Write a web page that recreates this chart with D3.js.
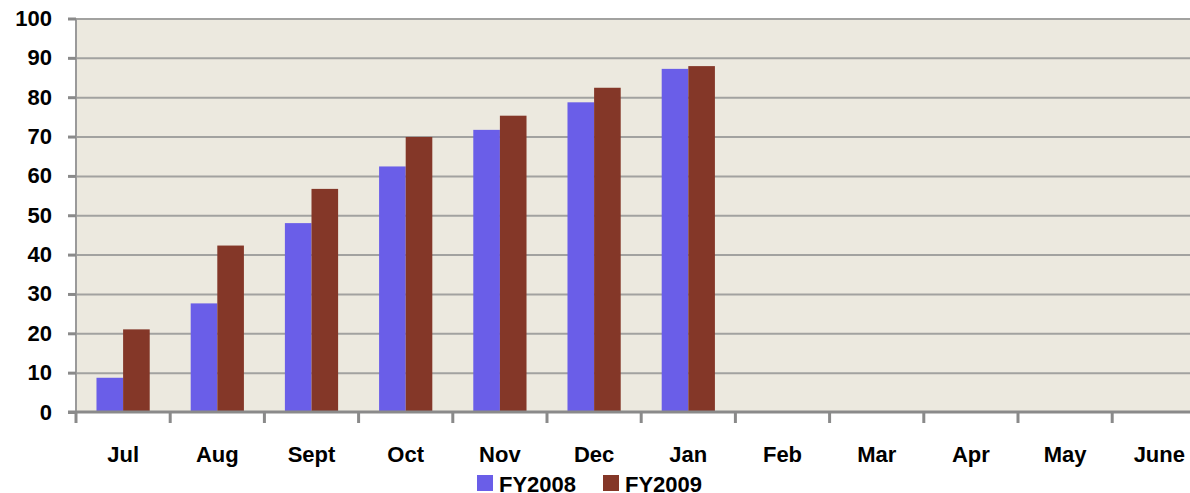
<!DOCTYPE html>
<html>
<head>
<meta charset="utf-8">
<script src="https://cdn.jsdelivr.net/npm/d3@7"></script>
<style>
  html, body { margin: 0; padding: 0; background: #fff; overflow: hidden; }
  svg text { font-family: "Liberation Sans", Arial, sans-serif; font-weight: bold; fill: #000; }
</style>
</head>
<body>
<svg id="chart" width="1190" height="493"></svg>
<script>
// chart data
var months = ["Jul","Aug","Sept","Oct","Nov","Dec","Jan","Feb","Mar","Apr","May","June"];
var fy2008 = [8.7, 27.6, 48.0, 62.4, 71.7, 78.7, 87.2, null, null, null, null, null];
var fy2009 = [21.0, 42.3, 56.7, 69.9, 75.3, 82.4, 87.9, null, null, null, null, null];
var seriesNames = ["FY2008","FY2009"];
var seriesColors = ["#6a5ee8","#843728"];
var yTicks = [0,10,20,30,40,50,60,70,80,90,100];

// note: "top" is taken by window.top, so plot* names
var svg = d3.select('#chart'),
	plotLeft = 76, plotTop = 18.5, plotBottom = 412,
	step = 94.2,
	plotRight = plotLeft + step * months.length;

var x = d3.scaleBand()
		.domain(months)
		.range([plotLeft, plotRight])
		.padding(0);

var xSub = d3.scaleBand()
		.domain(seriesNames)
		.range([0, x.bandwidth()])
		.paddingInner(0)
		.paddingOuter(0.77);

var y = d3.scaleLinear()
		.domain([0, 100])
		.range([plotBottom, plotTop]);

var color = d3.scaleOrdinal().domain(seriesNames).range(seriesColors);

// plot background
svg.append('rect')
	.attr('x', plotLeft).attr('y', y(100))
	.attr('width', plotRight - plotLeft).attr('height', y(0) - y(100))
	.attr('fill', '#ece9df');

// gridlines
var grid = svg.append('g')
	.attr('transform', 'translate(' + plotLeft + ',0)')
	.call(d3.axisLeft(y).tickValues(yTicks.slice(1)).tickSize(-(plotRight - plotLeft)).tickFormat(''));
grid.select('.domain').remove();
grid.selectAll('line').attr('stroke', '#a2a2a0').attr('stroke-width', 2);

// bars
var rows = months.map(function(m, i){ return { m: m, v: [fy2008[i], fy2009[i]] }; });
var groups = svg.append('g').selectAll('g')
	.data(rows)
	.join('g')
	.attr('transform', function(d){ return 'translate(' + x(d.m) + ',0)'; });

groups.selectAll('rect')
	.data(function(d){
		return seriesNames.map(function(s, k){ return { s: s, v: d.v[k] }; })
			.filter(function(e){ return e.v != null; });
	})
	.join('rect')
	.attr('x', function(d){ return xSub(d.s); })
	.attr('y', function(d){ return y(d.v); })
	.attr('width', xSub.bandwidth())
	.attr('height', function(d){ return y(0) - y(d.v); })
	.attr('fill', function(d){ return color(d.s); });

// y axis
var gY = svg.append('g')
	.attr('transform', 'translate(' + plotLeft + ',0)')
	.call(d3.axisLeft(y).tickValues(yTicks).tickSize(8).tickPadding(16));
gY.select('.domain').attr('stroke', '#9a9a9a').attr('stroke-width', 2)
	.attr('d', 'M0,' + y(100) + 'V' + y(0));
gY.selectAll('.tick line').attr('stroke', '#8a8a8a').attr('stroke-width', 3);
gY.selectAll('text').style('font-size', '22px').attr('fill', '#000');

// x axis : labels centred, ticks on the band edges
var gX = svg.append('g')
	.attr('transform', 'translate(0,' + y(0) + ')')
	.call(d3.axisBottom(x).tickSize(0).tickPadding(34));
gX.select('.domain').attr('stroke', '#8a8a8a').attr('stroke-width', 3)
	.attr('d', 'M' + (plotLeft - 8) + ',0H' + plotRight);
gX.selectAll('text').style('font-size', '22px').attr('fill', '#000');

gX.selectAll('.edge')
	.data(d3.range(months.length + 1))
	.join('line')
	.attr('class', 'edge')
	.attr('x1', function(i){ return plotLeft + i * x.step(); })
	.attr('x2', function(i){ return plotLeft + i * x.step(); })
	.attr('y1', 0).attr('y2', 11)
	.attr('stroke', '#8a8a8a').attr('stroke-width', 3);

// legend
var legend = svg.append('g').attr('transform', 'translate(477,475)');
var item = legend.selectAll('g')
	.data(seriesNames)
	.join('g')
	.attr('transform', function(d, i){ return 'translate(' + (i * 126) + ',0)'; });
item.append('rect')
	.attr('width', 16).attr('height', 16)
	.attr('fill', function(d){ return color(d); });
item.append('text')
	.attr('x', 22).attr('y', 16.5)
	.style('font-size', '22px')
	.text(function(d){ return d; });
</script>
</body>
</html>
